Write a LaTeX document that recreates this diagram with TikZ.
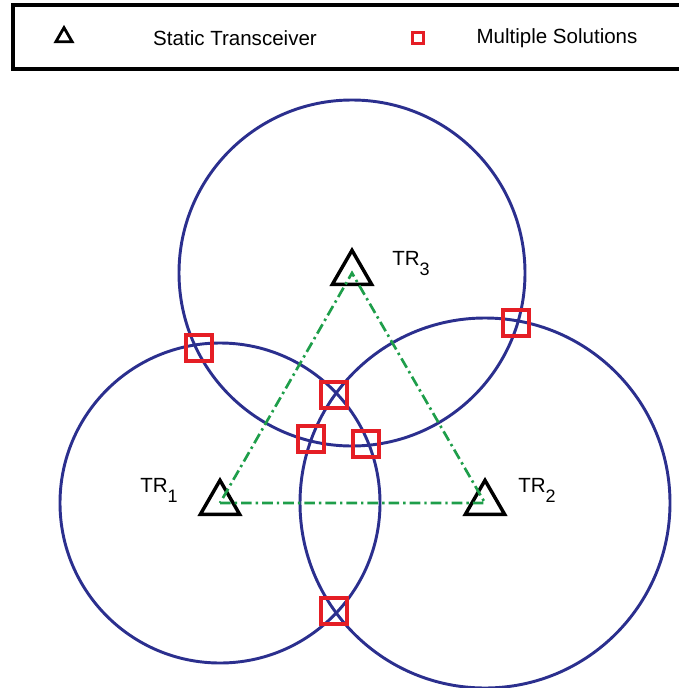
\documentclass[tikz,border=0pt]{standalone}
\usepackage{fontspec}
\setmainfont{Liberation Sans}
\usepackage{tikz}
\usetikzlibrary{shapes.geometric}
\definecolor{ringblue}{HTML}{2B2F8E}
\definecolor{linkgreen}{HTML}{1E9E4A}
\definecolor{solred}{HTML}{E51E25}
\newcommand{\trname}[1]{TR\raisebox{-7.5pt}{\fontsize{13.5}{15}\selectfont #1}}

\begin{document}
\begin{tikzpicture}[x=0.75pt,y=-0.75pt,font=\fontsize{15.4}{18}\selectfont,
  ring/.style={ringblue,line width=2.2pt},
  link/.style={linkgreen,line width=2pt,dash pattern=on 8pt off 3pt on 1.8pt off 3pt},
  tx/.style={draw=black,regular polygon,regular polygon sides=3,inner sep=0pt,minimum size=34pt,line width=2.6pt},
  sol/.style={draw=solred,rectangle,inner sep=0pt,minimum size=19.5pt,line width=2.4pt}]
  \useasboundingbox (0,0) rectangle (678,688);
  % legend
  \draw[line width=2.4pt] (13,5) rectangle (700,69);
  \node[tx,minimum size=14pt,line width=2.1pt] (keytx) at (64,37) {};
  \node (keytxtext) at (235,38) {Static Transceiver};
  \node[sol,minimum size=8.5pt,line width=2.1pt] (keysol) at (418,38) {};
  \node (keysoltext) at (557,38) {Multiple Solutions};
  % transceivers
  \node[tx] (tr1) at (220,503) {};
  \node[tx] (tr2) at (485,503) {};
  \node[tx] (tr3) at (352,273) {};
  \node[anchor=base west,inner sep=0pt] (tr1name) at (140,492) {\trname{1}};
  \node[anchor=base west,inner sep=0pt] (tr2name) at (518,492) {\trname{2}};
  \node[anchor=base west,inner sep=0pt] (tr3name) at (392,265) {\trname{3}};
  % ranges
  \draw[ring] (tr1.center) circle (160);
  \draw[ring] (tr2.center) circle (185);
  \draw[ring] (tr3.center) circle (173);
  \draw[link] (tr1.center) -- (tr2.center) -- (tr3.center) -- cycle;
  % solutions
  \foreach \x/\y/\n in {199/348/1,516/323/2,334/395/3,311/439/4,366/444/5,334/611/6}
    {\node[sol] (sol\n) at (\x,\y) {};}
\end{tikzpicture}
\end{document}
